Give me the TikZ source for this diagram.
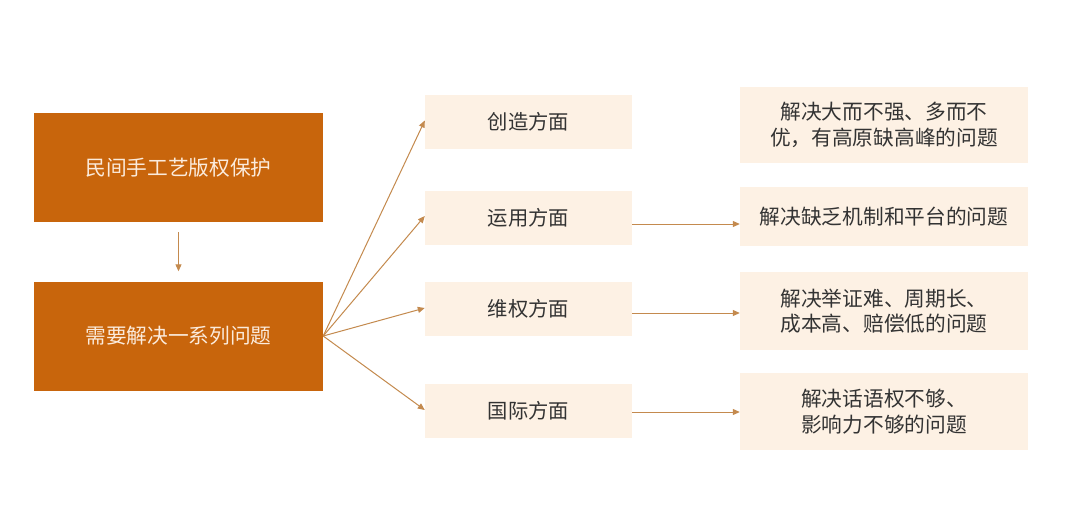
\documentclass[tikz,border=0pt]{standalone}
\usepackage{fontspec}
\setmainfont{Noto Sans CJK SC}
\usetikzlibrary{arrows.meta}
\definecolor{darkor}{HTML}{C8650C}
\definecolor{lightor}{HTML}{FDF1E4}
\definecolor{arr}{HTML}{C48A4E}
\definecolor{txt}{HTML}{333333}
\definecolor{cream}{HTML}{FBEBDC}
\begin{document}
\begin{tikzpicture}[x=1pt,y=-1pt,
  bigbox/.style={draw=none,fill=darkor,minimum width=289pt,minimum height=109pt,inner sep=0pt,text=cream,font=\fontsize{20.7}{25}\selectfont},
  midbox/.style={draw=none,fill=lightor,minimum width=207pt,minimum height=54pt,inner sep=0pt,text=txt,font=\fontsize{20.3}{25}\selectfont},
  rbox/.style={draw=none,fill=lightor,minimum width=288pt,inner sep=0pt,text=txt,align=center,font=\fontsize{20.7}{25.5}\selectfont},
  conn/.style={draw=arr,line width=1pt,-{Triangle[length=7pt,width=6pt]}}]
\useasboundingbox (0,0) rectangle (1080,507);
\fill[white] (0,0) rectangle (1080,507);
\node[bigbox] (a) at (178.5,167.5) {民间手工艺版权保护};
\node[bigbox] (b) at (178.5,336) {需要解决一系列问题};
\node[midbox] (m1) at (528.5,121.5) {创造方面};
\node[midbox] (m2) at (528.5,218) {运用方面};
\node[midbox] (m3) at (528.5,309) {维权方面};
\node[midbox] (m4) at (528.5,411) {国际方面};
\node[rbox,minimum height=76pt] (r1) at (884,125) {解决大而不强、多而不\\优，有高原缺高峰的问题};
\node[rbox,minimum height=59pt] (r2) at (884,216.5) {解决缺乏机制和平台的问题};
\node[rbox,minimum height=78pt] (r3) at (884,311) {解决举证难、周期长、\\成本高、赔偿低的问题};
\node[rbox,minimum height=77pt] (r4) at (884,411.5) {解决话语权不够、\\影响力不够的问题};
\draw[conn] ([yshift=-10pt]a.south) -- ([yshift=10pt]b.north);
\draw[conn] (b.east) -- ([yshift=1pt]m1.west);
\draw[conn] (b.east) -- ([yshift=2pt]m2.west);
\draw[conn] (b.east) -- ([yshift=1pt]m3.west);
\draw[conn] (b.east) -- ([yshift=1pt]m4.west);
\draw[conn] (m2.east |- 0,224) -- (r2.west |- 0,224);
\draw[conn] (m3.east |- 0,313) -- (r3.west |- 0,313);
\draw[conn] (m4.east |- 0,412) -- (r4.west |- 0,412);
\end{tikzpicture}
\end{document}
